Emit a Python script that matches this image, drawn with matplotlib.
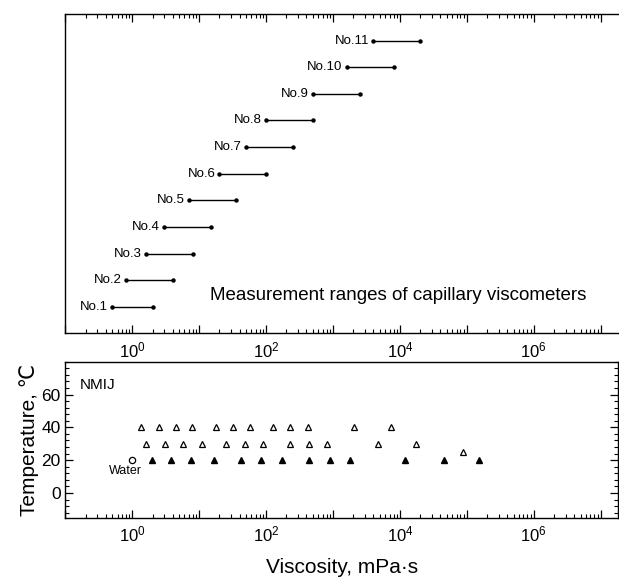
"""
Capillary viscometer measurement ranges (top) and NMIJ measurement points (bottom).
"""

import numpy as np
import matplotlib
matplotlib.use("Agg")
import matplotlib.pyplot as plt
from matplotlib.ticker import LogLocator, FuncFormatter, MultipleLocator, NullFormatter, NullLocator

plt.rcParams['font.family'] = ['Liberation Sans', 'DejaVu Sans']
plt.rcParams['mathtext.fontset'] = 'custom'
plt.rcParams['mathtext.rm'] = 'Liberation Sans'
plt.rcParams['mathtext.it'] = 'Liberation Sans:italic'

# measurement ranges of capillary viscometers, mPa·s
viscometer_names = ['No.1', 'No.2', 'No.3', 'No.4', 'No.5', 'No.6',
                    'No.7', 'No.8', 'No.9', 'No.10', 'No.11']
range_low = [0.5, 0.8, 1.6, 3.0, 7.0, 20, 50, 100, 500, 1600, 4000]
range_high = [2.0, 4.0, 8.0, 15, 35, 100, 250, 500, 2500, 8000, 20000]

# NMIJ standard liquid points
visc_40 = [1.36, 2.47, 4.44, 7.88, 18.0, 31.9, 56.6, 126, 230, 422, 2050, 7430]
visc_30 = [1.58, 3.04, 5.71, 11.0, 25.4, 47.7, 89.6, 224, 436, 822, 4690, 17600]
visc_20 = [1.96, 3.83, 7.62, 16.4, 42.6, 84.8, 172, 436, 889, 1770, 11750, 45500, 150000]
visc_25 = [87500]
water_visc = [1.0]
water_temp = [20]


def log_fmt(x, pos):
    e = int(round(np.log10(x)))
    if e >= 0 and e % 2 == 0:
        return r'$10^{%d}$' % e
    return ''


def style_xaxis(ax, top=True):
    ax.set_xscale('log')
    ax.set_xlim(0.1, 1.8e7)
    ax.xaxis.set_major_locator(LogLocator(base=10, numticks=20))
    ax.xaxis.set_minor_locator(LogLocator(base=10, subs=np.arange(2, 10), numticks=20))
    ax.xaxis.set_major_formatter(FuncFormatter(log_fmt))
    ax.xaxis.set_minor_formatter(NullFormatter())
    ax.tick_params(axis='x', which='both', direction='in', top=top, bottom=True,
                   labelsize=12, pad=5)
    ax.tick_params(axis='x', which='major', length=6, width=0.9)
    ax.tick_params(axis='x', which='minor', length=3, width=0.8)


fig = plt.figure(figsize=(6.19, 5.86), dpi=100)
ax1 = fig.add_axes([0.1058, 0.4312, 0.8922, 0.5448])
ax2 = fig.add_axes([0.1058, 0.1166, 0.8922, 0.2662])

# top panel
style_xaxis(ax1, top=True)
ax1.set_ylim(0, 12)
ax1.yaxis.set_major_locator(NullLocator())
ax1.spines['right'].set_visible(False)
for i, (name, lo, hi) in enumerate(zip(viscometer_names, range_low, range_high)):
    yv = i + 1
    ax1.plot([lo, hi], [yv, yv], color='black', lw=1.0, marker='o', ms=2.2)
    ax1.annotate(name, (lo, yv), xytext=(-3, 0), textcoords='offset points',
                 ha='right', va='center', fontsize=9.5)
ax1.text(0.2615, 0.117, 'Measurement ranges of capillary viscometers',
         transform=ax1.transAxes, ha='left', va='center', fontsize=13.5)

# bottom panel
style_xaxis(ax2, top=False)
ax2.set_ylim(-15, 80)
ax2.yaxis.set_major_locator(MultipleLocator(20))
ax2.yaxis.set_minor_locator(MultipleLocator(4))
ax2.set_yticks([0, 20, 40, 60])
ax2.tick_params(axis='y', which='both', direction='in', left=True, right=True,
                labelsize=12.5)
ax2.tick_params(axis='y', which='major', length=6, width=0.9)
ax2.tick_params(axis='y', which='minor', length=3, width=0.8)

ax2.plot(visc_40, [40] * len(visc_40), ls='none', marker='^', ms=4.8,
         mfc='white', mec='black', mew=0.9)
ax2.plot(visc_30, [30] * len(visc_30), ls='none', marker='^', ms=4.8,
         mfc='white', mec='black', mew=0.9)
ax2.plot(visc_25, [25] * len(visc_25), ls='none', marker='^', ms=4.8,
         mfc='white', mec='black', mew=0.9)
ax2.plot(visc_20, [20] * len(visc_20), ls='none', marker='^', ms=4.8,
         color='black')
ax2.plot(water_visc, water_temp, ls='none', marker='o', ms=4.5,
         mfc='white', mec='black', mew=0.9)
ax2.annotate('Water', (water_visc[0], water_temp[0]), xytext=(-5, -8),
             textcoords='offset points', ha='center', va='center', fontsize=9)
ax2.text(0.026, 0.85, 'NMIJ', transform=ax2.transAxes, ha='left', va='center',
         fontsize=11)

ax2.set_xlabel('Viscosity, mPa·s', fontsize=15, labelpad=10)
ax2.set_ylabel('Temperature, ℃', fontsize=15, labelpad=2)

for ax in (ax1, ax2):
    for s in ax.spines.values():
        s.set_linewidth(1.0)

fig.savefig('out.png', dpi=100)
